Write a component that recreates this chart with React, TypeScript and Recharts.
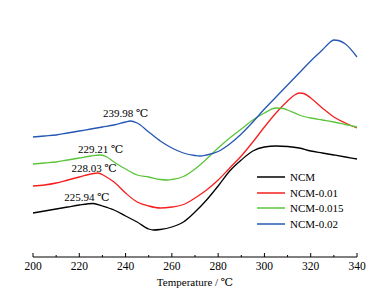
import React from "react";
import {
  LineChart,
  Line,
  XAxis,
  YAxis,
  Legend,
  ReferenceDot,
} from "recharts";

// page has an 8px default body margin, drop it so the chart sits at 0,0
document.body.style.margin = "0";

const FONT = '"Liberation Serif", "DejaVu Serif", serif';

// DSC traces (relative heat flow, arbitrary units)
const ncmTemp = [200, 205, 210, 215, 220, 226, 230, 235, 240, 245, 250, 252, 255, 260, 265, 270, 275, 280, 285, 290, 295, 300, 305, 310, 315, 320, 325, 330, 335, 340];
const ncmFlow = [44, 46, 48, 50, 52, 53.5, 51, 47, 41, 35, 28, 27, 27.5, 30, 35, 45, 57, 71, 86, 97, 106, 110, 111, 110.5, 109, 106, 104, 102, 100, 98];

const ncm001Temp = [200, 205, 210, 215, 220, 225, 228, 231, 235, 240, 245, 250, 255, 260, 265, 270, 275, 280, 285, 290, 295, 300, 305, 310, 313, 315, 317, 320, 325, 330, 335, 340];
const ncm001Flow = [71, 72, 74, 77, 80, 83, 84, 81, 75, 64, 55, 51, 49, 50, 52.5, 59, 67, 77, 89, 101, 115, 130, 144, 156, 162, 164, 163.5, 159, 149, 140, 134, 129];

const ncm0015Temp = [200, 205, 210, 215, 220, 225, 229, 232, 235, 240, 245, 250, 255, 258, 260, 265, 270, 275, 280, 285, 290, 295, 300, 305, 308, 310, 315, 320, 325, 330, 335, 340];
const ncm0015Flow = [93, 94, 95, 97, 99, 101, 102, 100, 95, 88, 82, 80, 77.5, 77, 77.5, 80.5, 88, 98, 109, 119, 128, 137, 144, 149, 148.5, 147, 142, 139, 137, 135, 132.5, 130];

const ncm002Temp = [200, 205, 210, 215, 220, 225, 230, 235, 240, 242, 245, 250, 255, 260, 265, 270, 272, 275, 280, 285, 290, 295, 300, 305, 310, 315, 320, 325, 328, 330, 332, 335, 340];
const ncm002Flow = [120, 121, 122, 124, 126, 128, 130, 132, 135, 136, 134, 125, 116, 109, 104, 101.5, 101, 102, 105.5, 113, 123, 135, 148, 160, 172, 184, 196, 207, 214, 217, 216.5, 213, 200];

const xTicks = [200, 210, 220, 230, 240, 250, 260, 270, 280, 290, 300, 310, 320, 330, 340];

// peak temperature annotations: text, temperature, height
const peakLabels = ["239.98 ℃", "229.21 ℃", "228.03 ℃", "225.94 ℃"];
const peakLabelTemp = [240, 229.2, 226.4, 223.3];
const peakLabelFlow = [144, 108, 89, 60];

const zip = (t: number[], v: number[]) => t.map((temp, i) => ({ temp, flow: v[i] }));

const series = [
  { name: "NCM", color: "#000000", data: zip(ncmTemp, ncmFlow) },
  { name: "NCM-0.01", color: "#f5201e", data: zip(ncm001Temp, ncm001Flow) },
  { name: "NCM-0.015", color: "#5cc43a", data: zip(ncm0015Temp, ncm0015Flow) },
  { name: "NCM-0.02", color: "#2457b5", data: zip(ncm002Temp, ncm002Flow) },
];

const TempTick = (props: any) => {
  const { x, y, payload } = props;
  const major = payload.value % 20 === 0;
  return (
    <g>
      <line x1={x} x2={x} y1={y} y2={y - (major ? 4 : 2)} stroke="#000" />
      {major && (
        <text x={x} y={y + 13} textAnchor="middle" fill="#000" fontSize={11.5} fontFamily={FONT}>
          {payload.value}
        </text>
      )}
    </g>
  );
};

const renderLegend = ({ payload }: any) => (
  <div style={{ fontFamily: FONT, fontSize: 11, color: "#000" }}>
    {payload.map((item: any) => (
      <div key={item.value} style={{ display: "flex", alignItems: "center", height: 15.7 }}>
        <svg width={28} height={4}>
          <line x1={0} x2={28} y1={2} y2={2} stroke={item.color} strokeWidth={1.5} />
        </svg>
        <span style={{ marginLeft: 5, lineHeight: "12px" }}>{item.value}</span>
      </div>
    ))}
  </div>
);

export default function App() {
  return (
    <LineChart
      width={383}
      height={293}
      margin={{ top: 12, right: 26, bottom: 0, left: 33 }}
      style={{ fontFamily: FONT }}
    >
      <XAxis
        dataKey="temp"
        type="number"
        domain={[200, 340]}
        ticks={xTicks}
        interval={0}
        height={36}
        tickSize={0}
        tickMargin={0}
        tickLine={false}
        tick={<TempTick />}
        axisLine={{ stroke: "#000" }}
        label={{
          value: "Temperature / ℃",
          position: "insideBottom",
          offset: 7,
          fill: "#000",
          fontSize: 11,
          fontFamily: FONT,
        }}
      />
      <XAxis
        xAxisId="top"
        orientation="top"
        type="number"
        domain={[200, 340]}
        height={0}
        tick={false}
        tickLine={false}
        axisLine={{ stroke: "#000" }}
      />
      <YAxis type="number" domain={[0, 245]} width={0} tick={false} tickLine={false} axisLine={{ stroke: "#000" }} />
      <YAxis
        yAxisId="right"
        orientation="right"
        type="number"
        domain={[0, 245]}
        width={0}
        tick={false}
        tickLine={false}
        axisLine={{ stroke: "#000" }}
      />
      {series.map((s) => (
        <Line
          key={s.name}
          data={s.data}
          dataKey="flow"
          name={s.name}
          type="monotone"
          stroke={s.color}
          strokeWidth={1.3}
          dot={false}
          isAnimationActive={false}
        />
      ))}
      {peakLabels.map((text, i) => (
        <ReferenceDot
          key={text}
          x={peakLabelTemp[i]}
          y={peakLabelFlow[i]}
          r={1}
          fillOpacity={0}
          strokeOpacity={0}
          ifOverflow="visible"
          label={{ value: text, position: "center", fill: "#000", fontSize: 11, fontFamily: FONT }}
        />
      ))}
      <Legend
        layout="vertical"
        align="center"
        verticalAlign="middle"
        content={renderLegend}
        wrapperStyle={{ left: 257, top: 169, width: 100 }}
      />
    </LineChart>
  );
}
